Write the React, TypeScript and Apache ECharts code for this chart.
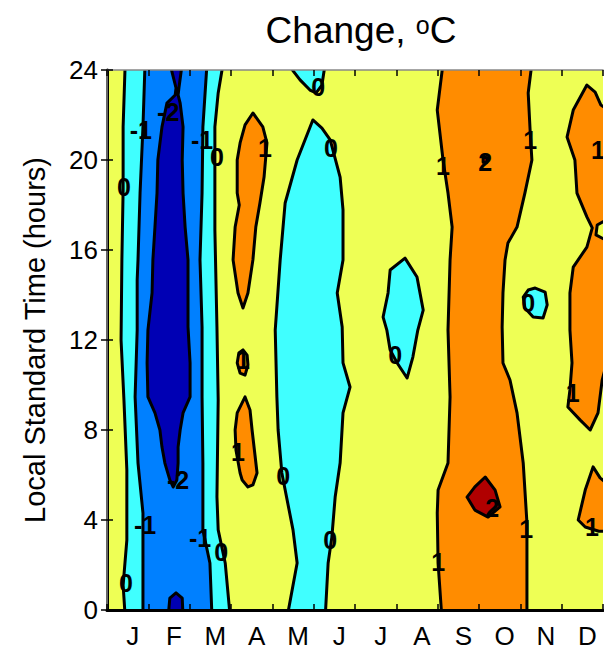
import React, { useEffect, useRef } from 'react';
import * as echarts from 'echarts';

// ---- axes ----
const monthLabels = ['J', 'F', 'M', 'A', 'M', 'J', 'J', 'A', 'S', 'O', 'N', 'D'];
const hourMin = 0;
const hourMax = 24;
const hourStep = 4;

// ---- filled contour regions, vertices as [month, hour] ----
// band key = lower bound of the contour interval
const cyanJanMar = [[0.44, -0.3], [0.39, 1.11], [0.48, 3.11], [0.48, 6.22], [0.41, 9.33], [0.34, 12.0], [0.36, 15.56], [0.39, 18.67], [0.39, 21.47], [0.44, 24.3], [2.81, 24.3], [2.69, 22.98], [2.61, 21.47], [2.61, 16.89], [2.66, 12.58], [2.69, 9.33], [2.66, 5.02], [2.69, 3.56], [2.86, 2.09], [2.98, -0.3]];
const blueJanMar = [[0.87, -0.3], [0.87, 4.31], [0.75, 6.53], [0.68, 9.47], [0.73, 12.44], [0.73, 14.67], [0.75, 15.56], [0.8, 18.53], [0.87, 21.47], [0.92, 24.3], [2.42, 24.3], [2.32, 21.47], [2.3, 18.53], [2.25, 15.56], [2.3, 12.58], [2.3, 9.47], [2.32, 6.53], [2.32, 3.56], [2.49, 2.09], [2.54, -0.3]];
const darkBlueFeb = [[1.52, 24.3], [1.82, 24.3], [1.74, 23.2], [1.72, 22.89], [1.77, 22.53], [1.84, 21.47], [1.82, 20.0], [1.84, 18.53], [1.89, 17.02], [1.96, 15.56], [1.96, 14.09], [1.96, 12.58], [2.01, 10.98], [2.01, 9.47], [1.84, 8.76], [1.77, 8.0], [1.72, 7.24], [1.72, 6.53], [1.69, 5.78], [1.6, 5.47], [1.52, 5.78], [1.4, 6.53], [1.33, 7.24], [1.28, 8.0], [1.16, 8.76], [0.99, 9.47], [0.97, 10.98], [0.99, 12.44], [1.09, 14.09], [1.11, 15.56], [1.16, 17.02], [1.21, 18.53], [1.23, 20.0], [1.33, 21.47], [1.45, 22.53], [1.65, 22.89], [1.67, 23.2]];
const darkBlueFebLow = [[1.48, -0.3], [1.52, 0.53], [1.67, 0.76], [1.82, 0.53], [1.84, -0.3]];
const orangeApr1 = [[3.53, 22.09], [3.77, 21.47], [3.87, 20.76], [3.8, 19.24], [3.7, 18.09], [3.6, 17.02], [3.53, 15.56], [3.41, 14.09], [3.29, 13.42], [3.17, 14.09], [3.05, 15.56], [3.1, 17.02], [3.2, 18.0], [3.15, 18.53], [3.15, 20.0], [3.22, 20.76], [3.34, 21.56]];
const orangeApr2 = [[3.29, 11.56], [3.39, 11.33], [3.41, 10.89], [3.34, 10.44], [3.22, 10.53], [3.15, 10.98], [3.19, 11.42]];
const orangeApr3 = [[3.34, 9.47], [3.46, 8.89], [3.51, 8.0], [3.58, 6.89], [3.63, 6.09], [3.53, 5.56], [3.41, 5.47], [3.27, 5.78], [3.22, 6.09], [3.12, 7.11], [3.1, 8.0], [3.15, 8.76]];
const cyanMay = [[4.36, -0.3], [4.6, 2.09], [4.5, 3.56], [4.23, 6.09], [4.14, 8.0], [4.11, 9.47], [4.07, 12.44], [4.19, 15.56], [4.31, 18.09], [4.6, 20.0], [4.98, 21.78], [5.2, 21.42], [5.4, 20.89], [5.64, 19.24], [5.71, 17.78], [5.71, 15.56], [5.57, 14.09], [5.69, 12.58], [5.71, 10.98], [5.88, 9.91], [5.71, 8.76], [5.64, 6.53], [5.52, 5.02], [5.44, 3.24], [5.35, 2.09], [5.28, -0.3]];
const cyanMayTop = [[4.36, 24.3], [4.67, 23.56], [4.91, 23.11], [5.06, 22.98], [5.2, 23.33], [5.28, 24.3]];
const cyanJul = [[7.21, 15.64], [7.5, 14.8], [7.65, 13.33], [7.52, 12.44], [7.4, 11.24], [7.26, 10.31], [7.02, 10.98], [6.85, 11.56], [6.77, 12.44], [6.68, 13.02], [6.8, 14.09], [6.85, 15.11]];
const orangeSepOct = [[8.1, -0.3], [8.01, 2.09], [7.99, 4.31], [8.01, 5.33], [8.25, 6.53], [8.3, 9.47], [8.25, 12.44], [8.3, 15.56], [8.35, 17.02], [8.25, 18.53], [8.13, 20.0], [7.99, 22.22], [8.13, 24.3], [10.28, 24.3], [10.19, 22.98], [10.24, 21.2], [10.28, 20.0], [10.11, 18.53], [9.92, 17.02], [9.7, 16.31], [9.63, 15.56], [9.58, 14.09], [9.56, 12.58], [9.58, 10.98], [9.75, 10.22], [9.92, 8.76], [10.07, 6.53], [10.16, 3.87], [10.16, 2.09], [10.16, -0.3]];
const redSep = [[9.15, 5.91], [9.39, 5.33], [9.51, 4.58], [9.22, 4.13], [8.9, 4.44], [8.71, 5.02], [8.9, 5.47]];
const redSepTop = [[9.1, 20.13], [9.2, 20.1], [9.19, 19.9], [9.1, 19.9]];
const cyanNov = [[10.36, 14.31], [10.6, 14.13], [10.65, 13.56], [10.55, 12.98], [10.31, 13.02], [10.11, 13.42], [10.07, 13.91], [10.19, 14.22]];
const orangeDec = [[11.61, 23.33], [11.81, 23.02], [11.95, 22.44], [12.3, 22.0], [12.3, 17.56], [11.86, 17.11], [11.83, 16.67], [12.3, 16.22], [12.3, 12.44], [11.98, 10.22], [11.88, 8.76], [11.69, 8.0], [11.45, 8.44], [11.15, 9.02], [11.2, 9.78], [11.25, 10.98], [11.2, 12.44], [11.2, 14.09], [11.28, 15.24], [11.61, 16.13], [11.74, 16.98], [11.61, 17.47], [11.37, 18.53], [11.32, 20.0], [11.13, 21.02], [11.28, 22.22]];
const orangeDecLow = [[11.76, 6.36], [11.93, 5.87], [12.3, 5.33], [12.3, 3.5], [11.9, 3.5], [11.57, 3.69], [11.4, 4.0], [11.57, 5.33]];

const regions = [
  { band: -1, pts: cyanJanMar },
  { band: -2, pts: blueJanMar },
  { band: -3, pts: darkBlueFeb },
  { band: -3, pts: darkBlueFebLow },
  { band: 1, pts: orangeApr1 },
  { band: 1, pts: orangeApr2 },
  { band: 1, pts: orangeApr3 },
  { band: -1, pts: cyanMay },
  { band: -1, pts: cyanMayTop },
  { band: -1, pts: cyanJul },
  { band: 1, pts: orangeSepOct },
  { band: 2, pts: redSep },
  { band: 2, pts: redSepTop },
  { band: -1, pts: cyanNov },
  { band: 1, pts: orangeDec },
  { band: 1, pts: orangeDecLow },
];

// ---- contour labels [month, hour, text] ----
const contourLabels: [number, number, string][] = [
  [0.41, 18.8, '0'], [0.82, 21.33, '-1'], [1.48, 22.13, '-2'], [2.3, 20.89, '-1'], [2.66, 20.13, '0'],
  [1.72, 5.78, '-2'], [0.92, 3.78, '-1'], [2.25, 3.2, '-1'], [0.46, 1.2, '0'], [2.76, 2.58, '0'],
  [3.82, 20.53, '1'], [3.29, 11.11, '1'], [3.17, 7.02, '1'],
  [5.11, 23.24, '0'], [5.42, 20.53, '0'], [4.26, 5.96, '0'], [5.4, 3.11, '0'], [6.97, 11.33, '0'],
  [8.13, 19.73, '1'], [9.15, 19.91, '2'], [10.24, 20.89, '1'], [10.19, 13.64, '0'], [11.88, 20.44, '1'],
  [11.27, 9.64, '1'], [9.32, 4.53, '2'], [10.14, 3.6, '1'], [8.01, 2.13, '1'], [11.73, 3.69, '1'],
];

const bandColors: Record<string, string> = {
  '-3': '#0000B4',
  '-2': '#0080FF',
  '-1': '#40FFFF',
  '0': '#EEFF55',
  '1': '#FF8C00',
  '2': '#B00000',
};

const FONT = '"Liberation Sans", Arial, Helvetica, sans-serif';

export default function App() {
  const ref = useRef<HTMLDivElement>(null);
  useEffect(() => {
    if (!ref.current) return;
    const chart = echarts.init(ref.current, undefined, { renderer: 'svg' });
    const option: any = {
      animation: false,
      backgroundColor: '#fff',
      title: {
        text: 'Change, {s|o}C',
        left: 356,
        top: 7,
        textAlign: 'center',
        textStyle: {
          fontSize: 37,
          fontWeight: 'normal',
          color: '#000',
          fontFamily: FONT,
          rich: { s: { fontSize: 25, verticalAlign: 'top', color: '#000', fontFamily: FONT } },
        },
      },
      grid: {
        left: 107,
        top: 70,
        width: 496,
        height: 540,
        show: true,
        backgroundColor: bandColors['0'],
        borderWidth: 0,
      },
      xAxis: [
        {
          type: 'value', min: 0, max: 12, interval: 1, position: 'bottom', z: 5,
          axisLine: { show: true, lineStyle: { color: '#000', width: 3 } },
          axisTick: { show: true, inside: true, length: 6, lineStyle: { color: '#000', width: 1.5 } },
          axisLabel: { show: false }, splitLine: { show: false },
        },
        {
          type: 'category', position: 'bottom', boundaryGap: true, z: 5,
          data: monthLabels.map((_, i) => String(i)),
          axisLine: { show: false }, axisTick: { show: false }, splitLine: { show: false },
          axisLabel: {
            interval: 0, margin: 13, fontSize: 26, color: '#000', fontFamily: FONT,
            padding: [0, 0, 0, 10],
            formatter: (_v: string, i: number) => monthLabels[i],
          },
        },
        {
          type: 'value', min: 0, max: 12, interval: 1, position: 'top', z: 5,
          axisLine: { show: true, lineStyle: { color: '#888', width: 1.5 } },
          axisTick: { show: true, inside: true, length: 6, lineStyle: { color: '#000', width: 1.5 } },
          axisLabel: { show: false }, splitLine: { show: false },
        },
      ],
      yAxis: [
        {
          type: 'value', min: hourMin, max: hourMax, interval: hourStep, position: 'left', z: 5,
          name: 'Local Standard Time (hours)', nameLocation: 'middle', nameGap: 58,
          nameTextStyle: { fontSize: 29, color: '#000', fontFamily: FONT },
          axisLine: { show: true, lineStyle: { color: '#000', width: 3 } },
          axisTick: { show: true, inside: true, length: 6, lineStyle: { color: '#000', width: 1.5 } },
          axisLabel: { fontSize: 26, color: '#000', margin: 9, fontFamily: FONT },
          splitLine: { show: false },
        },
        {
          type: 'value', min: hourMin, max: hourMax, interval: hourStep, position: 'right', z: 5,
          axisLine: { show: true, lineStyle: { color: '#888', width: 1.5 } },
          axisTick: { show: true, inside: true, length: 6, lineStyle: { color: '#000', width: 1.5 } },
          axisLabel: { show: false }, splitLine: { show: false },
        },
      ],
      series: [
        {
          type: 'custom',
          xAxisIndex: 0,
          yAxisIndex: 0,
          clip: true,
          z: 2,
          data: regions.map((r) => [r.pts[0][0], r.pts[0][1]]),
          renderItem: (params: any, api: any) => {
            const r = regions[params.dataIndex];
            const pts = r.pts.map((p) => api.coord(p));
            return {
              type: 'polygon',
              shape: { points: pts },
              style: { fill: bandColors[String(r.band)], stroke: '#000', lineWidth: 3, lineJoin: 'round' },
            };
          },
        },
        {
          type: 'custom',
          xAxisIndex: 0,
          yAxisIndex: 0,
          clip: true,
          z: 3,
          data: contourLabels.map((l) => [l[0], l[1]]),
          renderItem: (params: any, api: any) => {
            const l = contourLabels[params.dataIndex];
            const c = api.coord([l[0], l[1]]);
            return {
              type: 'text',
              x: c[0],
              y: c[1],
              style: {
                text: l[2],
                fill: '#000',
                font: `bold 25px ${FONT}`,
                align: 'center',
                verticalAlign: 'middle',
                textAlign: 'center',
                textVerticalAlign: 'middle',
              },
            };
          },
        },
      ],
    };
    chart.setOption(option);
    return () => chart.dispose();
  }, []);
  return (
    <div
      ref={ref}
      style={{ position: 'absolute', left: 0, top: 0, width: 604, height: 654 }}
    />
  );
}
